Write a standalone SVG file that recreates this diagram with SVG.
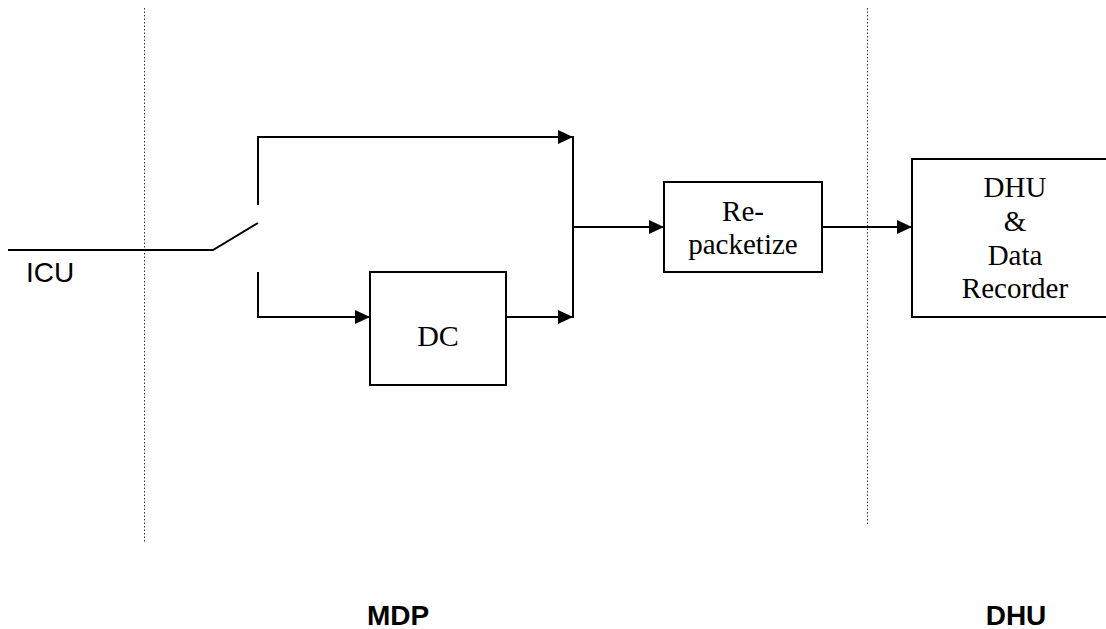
<svg xmlns="http://www.w3.org/2000/svg" width="1106" height="629" viewBox="0 0 1106 629">
<style>
.ln{stroke:#000;stroke-width:2;fill:none}
.box{stroke:#000;stroke-width:2;fill:#fff}
.dot{stroke:#333;stroke-width:1;stroke-dasharray:1.5 2;fill:none}
.tm{font-family:"Liberation Serif","Times New Roman",serif;font-size:29px;fill:#000;text-anchor:middle}
.ar{font-family:"Liberation Sans",Arial,sans-serif;font-size:28px;fill:#000}
.arb{font-family:"Liberation Sans",Arial,sans-serif;font-size:28px;font-weight:bold;fill:#000;text-anchor:middle}
</style>
<defs>
<marker id="ah" viewBox="0 0 15 14" refX="15" refY="7" markerWidth="15" markerHeight="14" markerUnits="userSpaceOnUse" orient="auto">
<path d="M0,0 L15,7 L0,14 Z" fill="#000"/>
</marker>
</defs>
<g id="dividers">
<line class="dot" x1="144.5" y1="8" x2="144.5" y2="542"/>
<line class="dot" x1="867.5" y1="8" x2="867.5" y2="526"/>
</g>
<g id="connectors">
<polyline class="ln" points="8,250 213,250 258,223"/>
<polyline class="ln" points="258,205 258,137 573,137" marker-end="url(#ah)"/>
<polyline class="ln" points="258,272 258,317 370,317" marker-end="url(#ah)"/>
<line class="ln" x1="506" y1="317" x2="573" y2="317" marker-end="url(#ah)"/>
<line class="ln" x1="573" y1="136" x2="573" y2="318"/>
<line class="ln" x1="573" y1="227" x2="664" y2="227" marker-end="url(#ah)"/>
<line class="ln" x1="822" y1="227" x2="912" y2="227" marker-end="url(#ah)"/>
</g>
<g id="icu">
<text class="ar" x="26" y="282">ICU</text>
</g>
<g id="dc">
<rect class="box" x="370" y="272" width="136" height="113"/>
<text class="tm" x="438" y="346" style="font-size:30px">DC</text>
</g>
<g id="repacketize">
<rect class="box" x="664" y="182" width="158" height="90"/>
<text class="tm" x="743" y="221">Re-</text>
<text class="tm" x="743" y="254">packetize</text>
</g>
<g id="dhu-box">
<rect class="box" x="912" y="159" width="210" height="158"/>
<text class="tm" x="1015" y="197">DHU</text>
<text class="tm" x="1015" y="231">&amp;</text>
<text class="tm" x="1015" y="265">Data</text>
<text class="tm" x="1015" y="298">Recorder</text>
</g>
<g id="labels">
<text class="arb" x="398" y="625">MDP</text>
<text class="arb" x="1016" y="625">DHU</text>
</g>
</svg>
